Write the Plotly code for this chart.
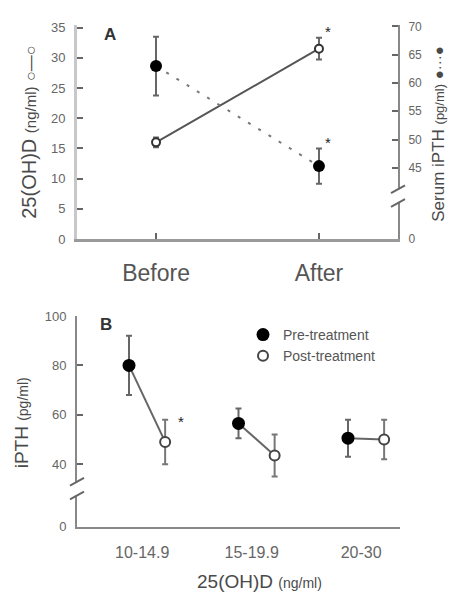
import plotly.graph_objects as go

# ---------------- data ----------------
periods = ["Before", "After"]
ohd_mean = [16.0, 31.5]          # 25(OH)D ng/ml
ohd_err = [0.8, 1.8]
pth_mean = [63.0, 45.3]          # iPTH pg/ml (right axis)
pth_err = [5.2, 3.1]

left_ticks = [0, 5, 10, 15, 20, 25, 30, 35]
right_ticks = [45, 50, 55, 60, 65, 70]

groups = ["10-14.9", "15-19.9", "20-30"]
pre_pth = [80.0, 56.5, 50.5]
pre_err = [12.0, 6.0, 7.5]
post_pth = [49.0, 43.5, 50.0]
post_err = [9.0, 8.5, 8.0]
b_ticks = [40, 60, 80, 100]

# ---------------- layout constants ----------------
W, H = 450, 600
FONT = "Liberation Sans, Arial, sans-serif"
TXT = "#4a4a4a"
TICK = "#666666"

def px_x(p):
    return p / W

def px_y(p):
    return 1 - p / H

POST_OFF = 0.33
LABEL_OFF = 0.12

A_RIGHT_LOW = 32.4
B_LOW = 14.65

fig = go.Figure()

# ---------- Panel A ----------
xa = list(range(len(periods)))
fig.add_trace(go.Scatter(
    x=xa, y=ohd_mean, mode="lines+markers", xaxis="x", yaxis="y",
    line=dict(color="#555555", width=2),
    marker=dict(symbol="circle", size=8, color="white", line=dict(color="#333333", width=2)),
    error_y=dict(type="data", array=ohd_err, color="#666666", thickness=2, width=3),
    showlegend=False, hoverinfo="skip"))
fig.add_trace(go.Scatter(
    x=xa, y=pth_mean, mode="lines+markers", xaxis="x", yaxis="y2",
    line=dict(color="#777777", width=2, dash="3px,9px"),
    marker=dict(symbol="circle", size=12, color="black"),
    error_y=dict(type="data", array=pth_err, color="#666666", thickness=2, width=3),
    showlegend=False, hoverinfo="skip"))

# ---------- Panel B ----------
xb_pre = list(range(len(groups)))
xb_post = [i + POST_OFF for i in xb_pre]
lx, ly = [], []
for i in range(len(groups)):
    lx += [xb_pre[i], xb_post[i], None]
    ly += [pre_pth[i], post_pth[i], None]
fig.add_trace(go.Scatter(
    x=lx, y=ly, mode="lines", xaxis="x2", yaxis="y3",
    line=dict(color="#666666", width=2), showlegend=False, hoverinfo="skip"))
fig.add_trace(go.Scatter(
    x=xb_pre, y=pre_pth, mode="markers", xaxis="x2", yaxis="y3", name="Pre-treatment",
    marker=dict(symbol="circle", size=13, color="black"),
    error_y=dict(type="data", array=pre_err, color="#666666", thickness=2, width=3),
    hoverinfo="skip"))
fig.add_trace(go.Scatter(
    x=xb_post, y=post_pth, mode="markers", xaxis="x2", yaxis="y3", name="Post-treatment",
    marker=dict(symbol="circle", size=10, color="white", line=dict(color="#444444", width=2)),
    error_y=dict(type="data", array=post_err, color="#777777", thickness=2, width=3),
    hoverinfo="skip"))

axis_common = dict(showgrid=False, zeroline=False, ticks="inside", ticklen=6,
                   tickwidth=2, tickcolor="#666666", mirror=False)

fig.update_layout(
    width=W, height=H, margin=dict(l=0, r=0, t=0, b=0),
    paper_bgcolor="white", plot_bgcolor="white",
    font=dict(family=FONT, color=TXT),
    xaxis=dict(domain=[px_x(77), px_x(398)], anchor="y", range=[-0.485, 1.485],
               tickvals=xa, ticktext=periods, showline=True, linecolor="#9a9a9a", linewidth=3,
               tickfont=dict(size=23, color="#555555"), ticklabelstandoff=11, **axis_common),
    yaxis=dict(domain=[px_y(238), px_y(18)], anchor="x", range=[0, 35.5],
               tickvals=left_ticks, showline=True, linecolor="#c8c8c8", linewidth=3,
               tickfont=dict(size=13, color=TICK), ticklabelstandoff=6, **axis_common),
    yaxis2=dict(overlaying="y", side="right", anchor="x", range=[A_RIGHT_LOW, 70.34],
                tickvals=[A_RIGHT_LOW] + right_ticks, ticktext=["0"] + [str(t) for t in right_ticks],
                showline=True, linecolor="#888888", linewidth=2,
                tickfont=dict(size=12, color=TICK), ticklabelstandoff=6, **axis_common),
    xaxis2=dict(domain=[px_x(77), px_x(400)], anchor="y3", range=[-0.475, 2.475],
                tickvals=[i + LABEL_OFF for i in xb_pre], ticktext=groups,
                showline=True, linecolor="#888888", linewidth=2, showgrid=False, zeroline=False,
                ticks="", tickfont=dict(size=16, color="#666666"), ticklabelstandoff=10),
    yaxis3=dict(domain=[px_y(533), px_y(317)], anchor="x2", range=[B_LOW, 100],
                tickvals=[B_LOW] + b_ticks, ticktext=["0"] + [str(t) for t in b_ticks],
                showline=True, linecolor="#888888", linewidth=2,
                tickfont=dict(size=13, color=TICK), ticklabelstandoff=6, **axis_common),
    legend=dict(x=px_x(243), y=px_y(320), xanchor="left", yanchor="top",
                bgcolor="rgba(0,0,0,0)", font=dict(size=14, color="#555555"),
                itemwidth=30, tracegroupgap=0),
)

# axis break marks (white gap + two slashes)
def add_break(x0, y_top, y_bot):
    fig.add_shape(type="rect", xref="paper", yref="paper",
                  x0=px_x(x0 - 3), x1=px_x(x0 + 3), y0=px_y(y_bot), y1=px_y(y_top),
                  fillcolor="white", line=dict(width=0), layer="above")
    for yy in (y_top, y_bot):
        fig.add_shape(type="line", xref="paper", yref="paper",
                      x0=px_x(x0 - 7), y0=px_y(yy + 4), x1=px_x(x0 + 7), y1=px_y(yy - 4),
                      line=dict(color="#666666", width=2), layer="above")

add_break(77, 487, 501)
add_break(398, 187, 201)

ann = []
# panel letters
ann.append(dict(text="<b>A</b>", x=px_x(110), y=px_y(28), font=dict(size=17, color="#333333")))
ann.append(dict(text="<b>B</b>", x=px_x(106), y=px_y(326), font=dict(size=17, color="#333333")))
# axis titles
ann.append(dict(text="25(OH)D <span style='font-size:15px'>(ng/ml)</span> <span style='font-size:16px'>○—○</span>",
                x=px_x(29), y=px_y(129), textangle=-90, font=dict(size=20, color=TXT)))
ann.append(dict(text="Serum iPTH <span style='font-size:13px'>(pg/ml)</span> <span style='font-size:15px'>●···●</span>",
                x=px_x(439), y=px_y(130), textangle=-90, font=dict(size=17, color=TXT)))
ann.append(dict(text="iPTH <span style='font-size:14px'>(pg/ml)</span>",
                x=px_x(21), y=px_y(427), textangle=-90, font=dict(size=19, color=TXT)))
ann.append(dict(text="25(OH)D <span style='font-size:14px'>(ng/ml)</span>",
                x=px_x(259), y=px_y(589), font=dict(size=19, color=TXT)))
for a in ann:
    a.update(xref="paper", yref="paper", showarrow=False, xanchor="center", yanchor="middle")

# significance asterisks
ann.append(dict(text="*", x=xa[1], y=ohd_mean[1] + ohd_err[1], xref="x", yref="y",
                xshift=9, yshift=6, showarrow=False, font=dict(size=15, color="#222222")))
ann.append(dict(text="*", x=xa[1], y=pth_mean[1] + pth_err[1], xref="x", yref="y2",
                xshift=9, yshift=6, showarrow=False, font=dict(size=15, color="#222222")))
ann.append(dict(text="*", x=xb_post[0], y=post_pth[0] + post_err[0], xref="x2", yref="y3",
                xshift=16, yshift=-2, showarrow=False, font=dict(size=15, color="#222222")))

fig.update_layout(annotations=ann)

fig.write_html("out.html", config={"displayModeBar": False},
               post_script="document.body.style.margin='0';")
